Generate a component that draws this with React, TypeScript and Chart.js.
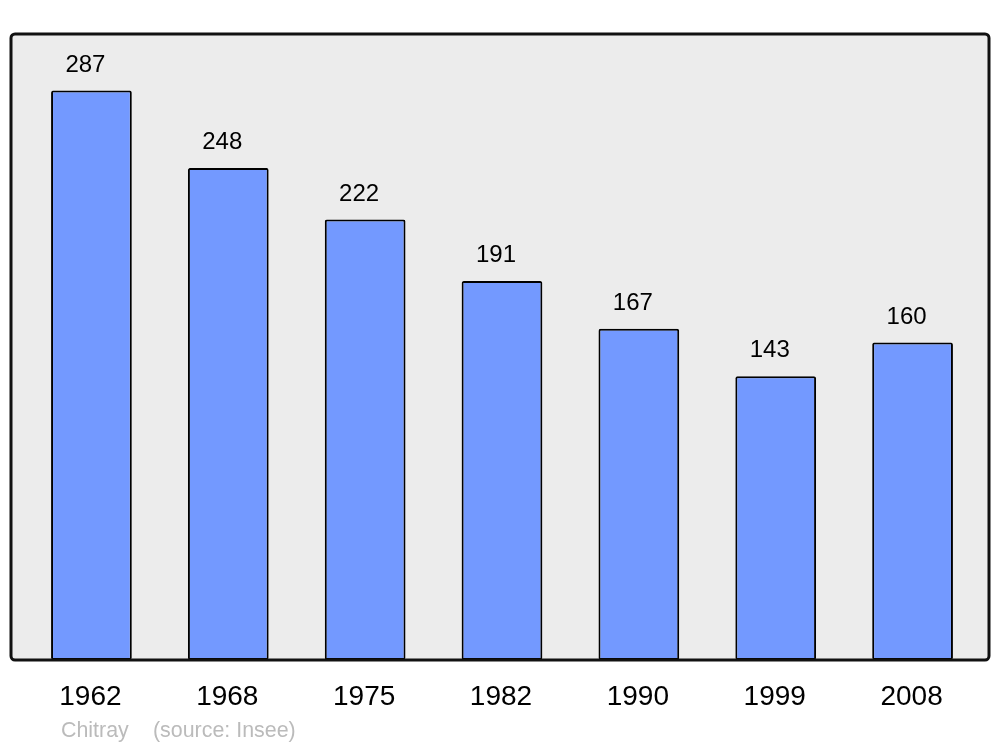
import React, { useEffect, useRef } from "react";
import { Chart, registerables } from "chart.js";

Chart.register(...registerables);

const years = ["1962", "1968", "1975", "1982", "1990", "1999", "2008"];
const population = [287, 248, 222, 191, 167, 143, 160];
const placeName = "Chitray";
const sourceText = "(source: Insee)";

const FONT = "'Liberation Sans', Arial, Helvetica, sans-serif";

const decorPlugin = {
  id: "decor",
  beforeDatasetsDraw(chart: any) {
    const ctx = chart.ctx;
    ctx.save();
    ctx.beginPath();
    ctx.roundRect(11, 34, 978, 626, 4);
    ctx.fillStyle = "#ececec";
    ctx.fill();
    ctx.restore();
  },
  afterDatasetsDraw(chart: any) {
    const ctx = chart.ctx;
    ctx.save();
    ctx.beginPath();
    ctx.roundRect(11, 34, 978, 626, 4);
    ctx.lineWidth = 3;
    ctx.strokeStyle = "#111111";
    ctx.stroke();

    const xs = chart.scales.x;
    const ys = chart.scales.y;
    ctx.fillStyle = "#000000";
    ctx.textAlign = "center";
    ctx.textBaseline = "alphabetic";
    // value labels
    ctx.font = `24px ${FONT}`;
    population.forEach((v, i) => {
      const x = xs.getPixelForValue(i);
      const y = ys.getPixelForValue(v);
      ctx.fillText(String(v), x - 6, y - 19);
    });
    // year labels
    ctx.font = `28px ${FONT}`;
    years.forEach((yr, i) => {
      const x = xs.getPixelForValue(i);
      ctx.fillText(yr, x - 1, 705);
    });
    // footer
    ctx.font = `21.4px ${FONT}`;
    ctx.fillStyle = "#bbbbbb";
    ctx.textAlign = "left";
    ctx.fillText(placeName, 61, 737);
    ctx.fillText(sourceText, 153, 737);
    ctx.restore();
  },
};

export default function App() {
  const ref = useRef<HTMLCanvasElement | null>(null);
  useEffect(() => {
    if (!ref.current) return;
    const chart = new Chart(ref.current, {
      type: "bar",
      data: {
        labels: years,
        datasets: [
          {
            data: population,
            backgroundColor: "#7399ff",
            borderColor: "#000000",
            borderWidth: 2,
            borderRadius: 2,
            borderSkipped: false,
            categoryPercentage: 1,
            barPercentage: 0.59,
          },
        ],
      },
      options: {
        animation: false,
        responsive: false,
        maintainAspectRatio: false,
        devicePixelRatio: 1,
        layout: { padding: { left: 23, right: 19, top: 34, bottom: 87 } },
        plugins: {
          legend: { display: false },
          tooltip: { enabled: false },
          title: { display: false },
        },
        scales: {
          x: { display: false },
          y: { display: false, min: 0, max: 315.5 },
        },
      },
      plugins: [decorPlugin],
    });
    return () => chart.destroy();
  }, []);
  return (
    <div style={{ position: "fixed", left: 0, top: 0, width: 1000, height: 747, background: "#ffffff" }}>
      <canvas ref={ref} width={1000} height={747} style={{ width: 1000, height: 747 }} />
    </div>
  );
}
